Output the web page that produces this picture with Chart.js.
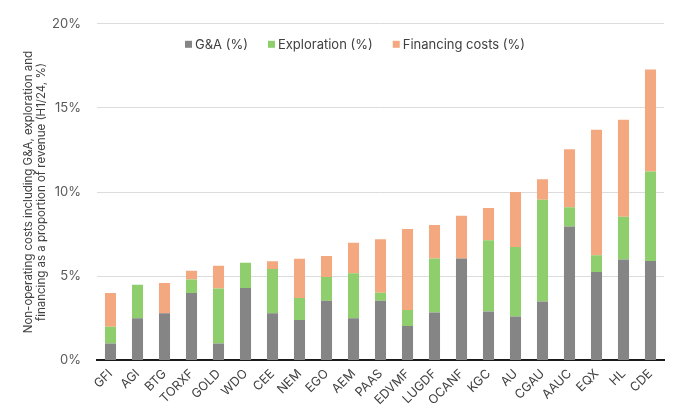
<!DOCTYPE html>
<html><head><meta charset="utf-8">
<script src="https://cdn.jsdelivr.net/npm/chart.js@4/dist/chart.umd.min.js"></script>
<style>html,body{margin:0;padding:0;background:#fff}#wrap{width:685px;height:417px}</style>
</head><body><div id="wrap"><canvas id="c" width="685" height="417"></canvas></div>
<script>
const categories = ["GFI","AGI","BTG","TORXF","GOLD","WDO","CEE","NEM","EGO","AEM","PAAS","EDVMF","LUGDF","OCANF","KGC","AU","CGAU","AAUC","EQX","HL","CDE"];
const gaValues = [1.0,2.5,2.8,4.0,1.0,4.3,2.8,2.4,3.55,2.5,3.55,2.05,2.85,6.05,2.9,2.6,3.5,7.95,5.25,6.0,5.9];
const explorationValues = [1.0,2.0,0,0.8,3.27,1.5,2.63,1.3,1.4,2.68,0.47,0.95,3.2,0,4.24,4.13,6.05,1.15,1.0,2.53,5.33];
const financingValues = [2.0,0,1.8,0.53,1.35,0,0.46,2.34,1.25,1.81,3.18,4.8,2.0,2.55,1.91,3.27,1.22,3.45,7.46,5.77,6.05];
const yTicks = [0,5,10,15,20];
const yTitle = ["Non-operating costs including G&A, exploration and","financing as a proportion of revenue (H1/24, %)"];

const font = "Inter, 'Open Sans', sans-serif";

const topLegend = {
  id:'topLegend',
  afterDraw(chart){
    const ctx = chart.ctx;
    ctx.save();
    ctx.font = "13px " + font;
    ctx.textBaseline = 'middle';
    ctx.textAlign = 'left';
    const y = chart.chartArea.top + 21;
    let x = chart.chartArea.left + 88;
    chart.data.datasets.forEach(ds=>{
      ctx.fillStyle = ds.backgroundColor;
      ctx.fillRect(x, y-4, 7, 7);
      x += 10;
      ctx.fillStyle = '#404040';
      ctx.fillText(ds.label, x, y);
      x += ctx.measureText(ds.label).width + 20;
    });
    ctx.restore();
  }
};

new Chart(document.getElementById('c'), {
  type: 'bar',
  data: {
    labels: categories,
    datasets: [
      {label:'G&A (%)', data: gaValues, backgroundColor:'#858585'},
      {label:'Exploration (%)', data: explorationValues, backgroundColor:'#8fce6c'},
      {label:'Financing costs (%)', data: financingValues, backgroundColor:'#f3a880'}
    ]
  },
  plugins:[topLegend],
  options: {
    responsive:false, animation:false,
    layout:{padding:{left:22,right:21,top:16,bottom:3}},
    datasets:{bar:{barPercentage:0.41,categoryPercentage:1}},
    plugins:{
      legend:{display:false},
      tooltip:{enabled:false}
    },
    scales:{
      x:{stacked:true,
        grid:{display:false,drawTicks:false},
        border:{display:true,color:'#1a1a1a',width:2},
        ticks:{color:'#404040',font:{family:font,size:12.5},minRotation:45,maxRotation:45,padding:6,autoSkip:false}},
      y:{stacked:true,min:0,max:20,
        afterBuildTicks:(ax)=>{ax.ticks=yTicks.map(v=>({value:v}));},
        afterFit:(ax)=>{ax.width=75;},
        grid:{color:'#dcdcdc',drawTicks:false,lineWidth:1},
        border:{display:false},
        ticks:{color:'#595959',font:{family:font,size:13},padding:16,callback:v=>v+'%'},
        title:{display:true,text:yTitle,color:'#404040',font:{family:font,size:11.5,lineHeight:1.15},padding:{top:0,bottom:3}}}
    }
  }
});
</script></body></html>
